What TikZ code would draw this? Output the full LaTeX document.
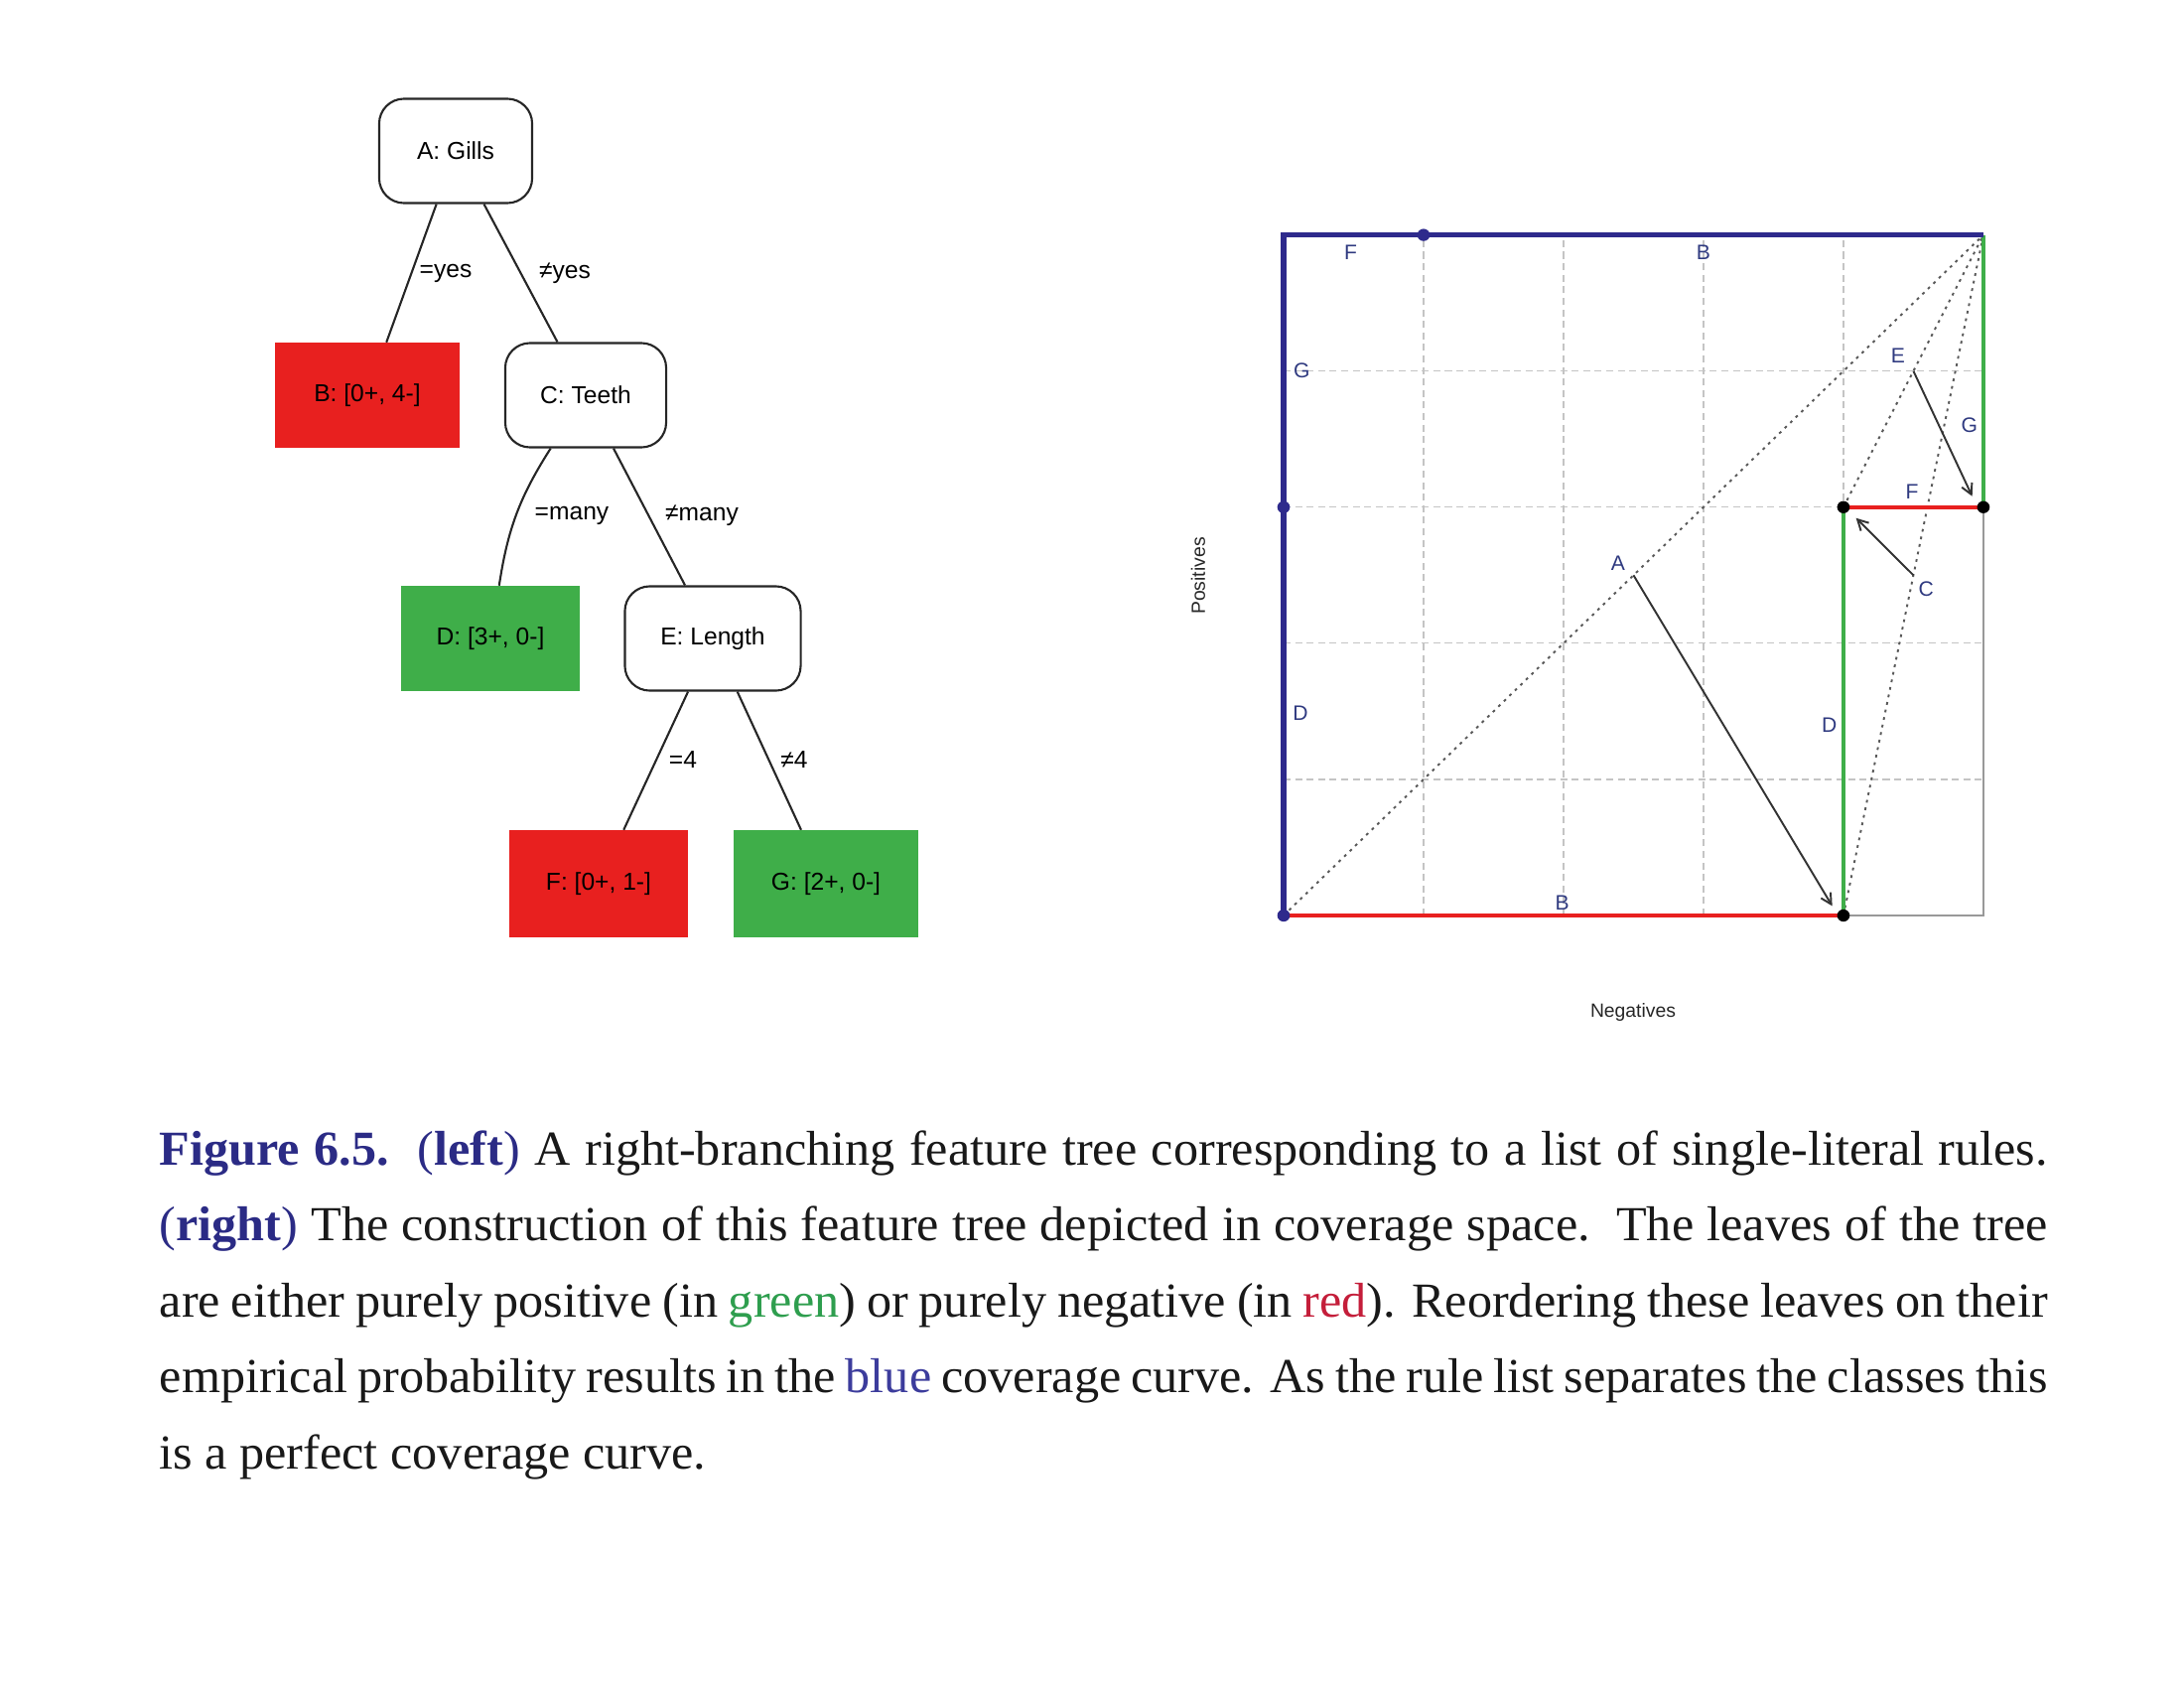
\documentclass[tikz,border=0pt]{standalone}
\usepackage{fontspec}
\setmainfont{Liberation Serif}
\newfontfamily\capfont[FakeStretch=1.02]{Liberation Serif}
\newfontfamily\diafont{Liberation Sans}
\usetikzlibrary{arrows.meta}
\definecolor{leafred}{HTML}{E8201F}
\definecolor{leafgreen}{HTML}{3FAE49}
\definecolor{curveblue}{HTML}{2E2A8C}
\definecolor{lblblue}{HTML}{2F3A80}
\definecolor{capblue}{HTML}{2B2B85}
\definecolor{capgreen}{HTML}{2E9E4E}
\definecolor{capred}{HTML}{C41E3A}
\definecolor{wordblue}{HTML}{3C3C9C}
\definecolor{gridgray}{HTML}{C4C4C4}
\begin{document}
\begin{tikzpicture}[x=0.01cm,y=-0.01cm,
  treefont/.style={font=\diafont\fontsize{7}{8}\selectfont},
  inner/.style={treefont, draw=black!85, line width=0.6pt, rounded corners=0.25cm,
    fill=white, minimum width=#1, minimum height=1.05cm, inner sep=0pt},
  redleaf/.style={treefont, fill=leafred, minimum width=#1, minimum height=1.05cm, inner sep=0pt},
  greenleaf/.style={treefont, fill=leafgreen, minimum width=#1, minimum height=1.05cm, inner sep=0pt},
  edge/.style={draw=black!85, line width=0.6pt},
  elabel/.style={treefont, inner sep=0pt},
  gridline/.style={draw=gridgray, line width=0.35pt, dash pattern=on 2pt off 1.3pt},
  framegray/.style={draw=gray!80, line width=0.7pt},
  diag/.style={draw=black!65, line width=0.55pt, dash pattern=on 0.8pt off 1.4pt},
  redseg/.style={draw=leafred, line width=1.2pt},
  greenseg/.style={draw=leafgreen, line width=1.2pt},
  blueseg/.style={draw=curveblue, line width=1.6pt},
  splitarrow/.style={draw=black!80, line width=0.55pt, -{Straight Barb[length=3pt,width=3.2pt]}},
  plotlabel/.style={font=\diafont\fontsize{6}{7}\selectfont, text=lblblue, inner sep=0pt},
  axislabel/.style={font=\diafont\fontsize{5.5}{6.5}\selectfont, text=black!85, inner sep=0pt},
  capline/.style={anchor=base west, inner sep=0pt, font=\capfont\fontsize{14}{17}\selectfont, text=black!90}
]
\useasboundingbox (0,0) rectangle (2200,1700);

% ---------------- tree ----------------
\node[inner=1.54cm] (A) at (459,152) {A: Gills};
\node[redleaf=1.85cm] (B) at (370,398) {B: [0+, 4-]};
\node[inner=1.62cm] (C) at (590,398) {C: Teeth};
\node[greenleaf=1.80cm] (D) at (494,643) {D: [3+, 0-]};
\node[inner=1.77cm] (E) at (718,643) {E: Length};
\node[redleaf=1.80cm, minimum height=1.07cm] (F) at (603,890) {F: [0+, 1-]};
\node[greenleaf=1.85cm, minimum height=1.07cm] (G) at (832,890) {G: [2+, 0-]};

\draw[edge] (A) -- (B);
\draw[edge] (A) -- (C);
\draw[edge] (C) to[bend right=12] (D);
\draw[edge] (C) -- (E);
\draw[edge] (E) -- (F);
\draw[edge] (E) -- (G);

\node[elabel] (lAB) at (449,275) {=yes};
\node[elabel] (lAC) at (569,275) {≠yes};
\node[elabel] (lCD) at (576,519) {=many};
\node[elabel] (lCE) at (707,519) {≠many};
\node[elabel] (lEF) at (688,765) {=4};
\node[elabel] (lEG) at (800,765) {≠4};

% ---------------- coverage plot ----------------
\begin{scope}[shift={(1293,922)}, x=1.409cm, y=1.37cm]
  \foreach \i in {1,2,3,4} {
    \draw[gridline] (\i,0) -- (\i,5);
    \draw[gridline] (0,\i) -- (5,\i);
  }
  \coordinate (O) at (0,0);
  \coordinate (T) at (5,5);
  \coordinate (P40) at (4,0);
  \coordinate (P43) at (4,3);
  \coordinate (P53) at (5,3);
  \coordinate (P50) at (5,0);
  \coordinate (P03) at (0,3);
  \coordinate (P05) at (0,5);
  \coordinate (P15) at (1,5);
  \draw[framegray] (P40) -- (P50) -- (P53);
  \draw[diag] (O) -- (T);
  \draw[diag] (P40) -- (T);
  \draw[diag] (P43) -- (T);
  \draw[redseg] (O) -- (P40);
  \draw[redseg] (P43) -- (P53);
  \draw[greenseg] (P40) -- (P43);
  \draw[greenseg] (P53) -- (T);
  \draw[blueseg] (O) -- (P05) -- (T);
  \fill[curveblue] (O) circle (0.045);
  \fill[curveblue] (P03) circle (0.045);
  \fill[curveblue] (P15) circle (0.045);
  \fill[black] (P40) circle (0.045);
  \fill[black] (P43) circle (0.045);
  \fill[black] (P53) circle (0.045);

  \coordinate (mA) at (2.5,2.5);
  \coordinate (tA) at (3.92,0.07);
  \coordinate (mC) at (4.5,2.5);
  \coordinate (tC) at (4.09,2.92);
  \coordinate (mE) at (4.5,4.0);
  \coordinate (tE) at (4.92,3.08);
  \draw[splitarrow] (mA) -- (tA);
  \draw[splitarrow] (mC) -- (tC);
  \draw[splitarrow] (mE) -- (tE);

  \node[plotlabel] (lF1) at (0.48,4.87) {F};
  \node[plotlabel] (lB1) at (3.0,4.87) {B};
  \node[plotlabel] (lG1) at (0.13,4.0) {G};
  \node[plotlabel] (lD1) at (0.12,1.49) {D};
  \node[plotlabel] (lB2) at (1.99,0.09) {B};
  \node[plotlabel] (lD2) at (3.9,1.40) {D};
  \node[plotlabel] (lF2) at (4.49,3.11) {F};
  \node[plotlabel] (lG2) at (4.9,3.6) {G};
  \node[plotlabel] (lA) at (2.39,2.59) {A};
  \node[plotlabel] (lC) at (4.59,2.40) {C};
  \node[plotlabel] (lE) at (4.39,4.11) {E};
\end{scope}
\node[axislabel, rotate=90] (pos) at (1207,580) {Positives};
\node[axislabel] (neg) at (1645,1019) {Negatives};

% ---------------- caption ----------------
\node[capline] (cap1) at (160,1173) {\makebox[19.01cm][s]{\textcolor{capblue}{\textbf{Figure 6.5.}\ \ (\textbf{left})} A right-branching feature tree corresponding to a list of single-literal rules.}};
\node[capline] (cap2) at (160,1249.5) {\makebox[19.01cm][s]{\textcolor{capblue}{(\textbf{right})} The construction of this feature tree depicted in coverage space.\ \ The leaves of the tree}};
\node[capline] (cap3) at (160,1326) {\makebox[19.01cm][s]{are either purely positive (in \textcolor{capgreen}{green}) or purely negative (in \textcolor{capred}{red}). Reordering these leaves on their}};
\node[capline] (cap4) at (160,1402.5) {\makebox[19.01cm][s]{empirical probability results in the \textcolor{wordblue}{blue} coverage curve. As the rule list separates the classes this}};
\node[capline] (cap5) at (160,1479) {is a perfect coverage curve.};
\end{tikzpicture}
\end{document}
